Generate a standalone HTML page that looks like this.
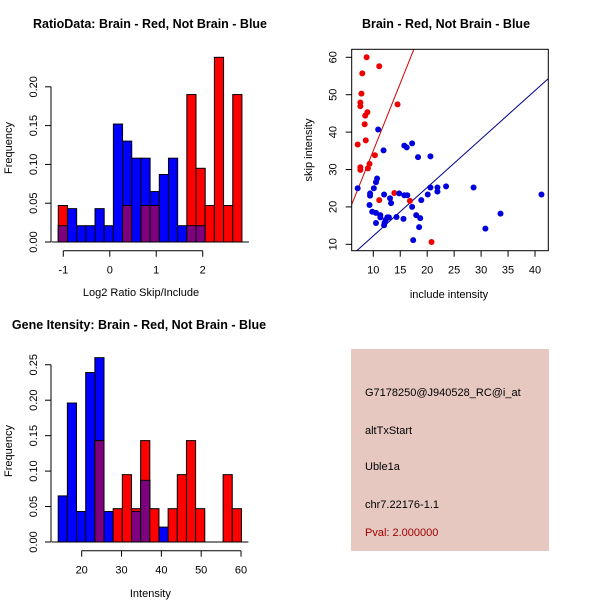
<!DOCTYPE html>
<html><head><meta charset="utf-8"><style>
body{margin:0;background:#fff}
svg{display:block;font-family:"Liberation Sans",sans-serif}
</style></head><body>
<svg id="c" width="600" height="600" viewBox="0 0 600 600">
<rect width="600" height="600" fill="#fff"/>
<text x="150" y="28" text-anchor="middle" font-size="12.5" font-weight="bold">RatioData: Brain - Red, Not Brain - Blue</text>
<text x="446" y="28" text-anchor="middle" font-size="12.5" font-weight="bold">Brain - Red, Not Brain - Blue</text>
<text x="139" y="329" text-anchor="middle" font-size="12.5" font-weight="bold">Gene Itensity: Brain - Red, Not Brain - Blue</text>
<g id="h1"></g>
<g id="h2"></g>
<g id="sc"></g>
<g>
<rect x="351" y="349" width="198" height="202" fill="#e6c8c1"/>
<text x="365" y="396" font-size="11">G7178250@J940528_RC@i_at</text>
<text x="365" y="434" font-size="11">altTxStart</text>
<text x="365" y="470" font-size="11">Uble1a</text>
<text x="365" y="508" font-size="11">chr7.22176-1.1</text>
<text x="365" y="536" font-size="11" fill="#a00000">Pval: 2.000000</text>
</g>
</svg>
<script>
const h1Blue=[.021,.043,.021,.021,.043,.021,.152,.130,.108,.108,.065,.087,.108,.021,.021,.021,0,0,0,0];
const h1Red=[.047,0,0,0,0,0,0,.047,0,.047,.047,0,0,0,.19,.095,.047,.238,.047,.19];
const h1Start=-1.108, h1Bin=0.1976;
const h1XTicks=[-1,0,1,2];
const h1YTicks=["0.00","0.05","0.10","0.15","0.20"];
const h2Blue=[.065,.196,.043,.239,.26,.043,0,0,.043,.087,0,.021,0,0,0,0,0,0,0,0];
const h2Red=[0,0,0,0,.143,0,.047,.095,.047,.143,.047,0,.047,.095,.143,.047,0,0,.095,.047];
const h2Start=14.1, h2Bin=2.3;
const h2XTicks=[20,30,40,50,60];
const h2YTicks=["0.00","0.05","0.10","0.15","0.20","0.25"];
const redX=[8.76,11.1,7.96,7.8,7.6,7.6,14.5,8.9,8.5,8.4,8.6,7.1,10.3,9.3,9.0,7.6,7.6,13.9,11.1,16.8,20.8];
const redY=[60,57.6,55.7,50.3,47.9,46.9,47.4,45.3,44.4,42.1,37.8,36.7,33.8,31.5,30.3,30.6,29.9,23.7,21.8,21.6,10.6];
const blueX=[7.1,10.9,11.9,15.75,16.2,17.2,18.3,20.6,10.7,10.5,10.1,9.4,9.4,12.0,13.1,13.3,9.3,14.8,15.75,16.3,20.1,20.6,21.9,21.9,23.5,28.6,41.2,33.6,30.8,9.8,10.5,11.3,11.3,12.6,12.9,12.3,12.1,12.0,10.5,14.3,15.6,17.2,18.9,17.96,18.7,18.5,17.4];
const blueY=[25.0,40.7,35.1,36.4,35.9,37.0,33.3,33.5,27.6,26.6,25.0,23.6,23.0,23.3,22.3,21.0,20.5,23.6,23.1,23.1,23.3,25.2,25.2,24.1,25.5,25.2,23.3,18.2,14.2,18.7,18.4,17.8,17.2,17.2,17.2,16.5,15.8,15.1,15.7,17.3,16.8,20.0,21.8,17.8,17.0,14.6,11.1];
const redLine=[3.6,-0.96], blueLine=[1.295,-0.7];
const scXTicks=[10,15,20,25,30,35,40];
const scYTicks=[10,20,30,40,50,60];

const NS="http://www.w3.org/2000/svg";
function mk(p,t,a,txt){const e=document.createElementNS(NS,t);for(const k in a)e.setAttribute(k,a[k]);if(txt!=null)e.textContent=txt;p.appendChild(e);return e;}

function hist(g,blue,red,start,bin,xScale,yScale,xTicks,yTicks,yTickVal,axisY,xlab,xlabY,ylabX,ylabY){
  for(let i=0;i<blue.length;i++){
    const x0=xScale(start+i*bin),x1=xScale(start+(i+1)*bin);
    const b=blue[i],r=red[i],m=Math.min(b,r);
    if(b>0){const e=mk(g,'rect',{x:x0,y:yScale(b),width:x1-x0,height:yScale(0)-yScale(b),fill:'#0000ff',stroke:'#000','stroke-width':1});
      
      }
    if(r>0){const e=mk(g,'rect',{x:x0,y:yScale(r),width:x1-x0,height:yScale(0)-yScale(r),fill:'#ff0000',stroke:'#000','stroke-width':1});
      
      }
    if(m>0){const e=mk(g,'rect',{x:x0,y:yScale(m),width:x1-x0,height:yScale(0)-yScale(m),fill:'#7f007f',stroke:'#000','stroke-width':1});
      
      }
  }
  const xEnd=xScale(start+blue.length*bin);
  mk(g,'line',{x1:51.7,x2:xEnd+7,y1:yScale(0),y2:yScale(0),stroke:'#000'});
  const ax=mk(g,'g',{});
  
  
  mk(ax,'line',{x1:xScale(xTicks[0]),x2:xScale(xTicks[xTicks.length-1]),y1:axisY,y2:axisY,stroke:'#000'});
  xTicks.forEach(v=>{mk(ax,'line',{x1:xScale(v),x2:xScale(v),y1:axisY,y2:axisY+6,stroke:'#000'});
    const t=mk(ax,'text',{x:xScale(v),y:axisY+23,'text-anchor':'middle','font-size':11},v);
    
    });
  const ay=mk(g,'g',{});
  
  
  mk(ay,'line',{x1:51,x2:51,y1:yScale(0),y2:yScale(yTickVal(yTicks.length-1)),stroke:'#000'});
  yTicks.forEach((s,i)=>{const y=yScale(yTickVal(i));mk(ay,'line',{x1:45,x2:51,y1:y,y2:y,stroke:'#000'});
    const t=mk(ay,'text',{x:0,y:0,'text-anchor':'middle','font-size':11,transform:`translate(37,${y}) rotate(-90)`},s);
    
    });
  const xl=mk(g,'text',{x:(xScale(xTicks[0])+xScale(xTicks[xTicks.length-1]))/2+(xlab==='Intensity'?-11:8),y:xlabY,'text-anchor':'middle','font-size':11},xlab);
  
  
  const yl=mk(g,'text',{x:0,y:0,'text-anchor':'middle','font-size':11,transform:`translate(${ylabX},${ylabY}) rotate(-90)`},'Frequency');
  
  
}
const h1x=v=>63.3+(v+1)*46.47, h1y=v=>242-v*776;
hist(document.getElementById('h1'),h1Blue,h1Red,h1Start,h1Bin,h1x,h1y,h1XTicks,h1YTicks,i=>i*0.05,250.7,'Log2 Ratio Skip/Include',296,12,148);
const h2x=v=>81.7+(v-20)*3.983, h2y=v=>542-v*709;
hist(document.getElementById('h2'),h2Blue,h2Red,h2Start,h2Bin,h2x,h2y,h2XTicks,h2YTicks,i=>i*0.05,550.7,'Intensity',597,12,451);

const sg=document.getElementById('sc');
const L=351.7,R=548.3,T=49.3,B=250.7;
const sx=v=>373.3+(v-10)*5.39, sy=v=>244.3-(v-10)*3.74;
const invx=p=>10+(p-373.3)/5.39;
mk(sg,'clipPath',{id:'clp'}).appendChild(document.createElementNS(NS,'rect'));
const cr=sg.querySelector('#clp rect');cr.setAttribute('x',L);cr.setAttribute('y',T);cr.setAttribute('width',R-L);cr.setAttribute('height',B-T);
function fitLine(c,col,name){const x0=invx(L),x1=invx(R);
  const e=mk(sg,'line',{x1:sx(x0),y1:sy(c[0]*x0+c[1]),x2:sx(x1),y2:sy(c[0]*x1+c[1]),stroke:col,'stroke-width':1,'clip-path':'url(#clp)'});
  
  }
fitLine(redLine,'#cc0000','red-fit-line');
fitLine(blueLine,'#00008b','blue-fit-line');
redX.forEach((x,i)=>{const e=mk(sg,'circle',{cx:sx(x),cy:sy(redY[i]),r:3,fill:'#ee0000'});
  
  });
blueX.forEach((x,i)=>{const e=mk(sg,'circle',{cx:sx(x),cy:sy(blueY[i]),r:3,fill:'#0000dd'});
  
  });
const box=mk(sg,'rect',{x:L,y:T,width:R-L,height:B-T,fill:'none',stroke:'#000'});


scXTicks.forEach(v=>{mk(sg,'line',{x1:sx(v),x2:sx(v),y1:B,y2:B+6,stroke:'#000'});
  const t=mk(sg,'text',{x:sx(v),y:B+23,'text-anchor':'middle','font-size':11},v);
  
  });
scYTicks.forEach(v=>{mk(sg,'line',{x1:L-6,x2:L,y1:sy(v),y2:sy(v),stroke:'#000'});
  const t=mk(sg,'text',{x:0,y:0,'text-anchor':'middle','font-size':11,transform:`translate(${L-15},${sy(v)}) rotate(-90)`},v);
  
  });
const sxl=mk(sg,'text',{x:449,y:298,'text-anchor':'middle','font-size':11},'include intensity');


const syl=mk(sg,'text',{x:0,y:0,'text-anchor':'middle','font-size':11,transform:'translate(312,150) rotate(-90)'},'skip intensity');


</script>
</body></html>
